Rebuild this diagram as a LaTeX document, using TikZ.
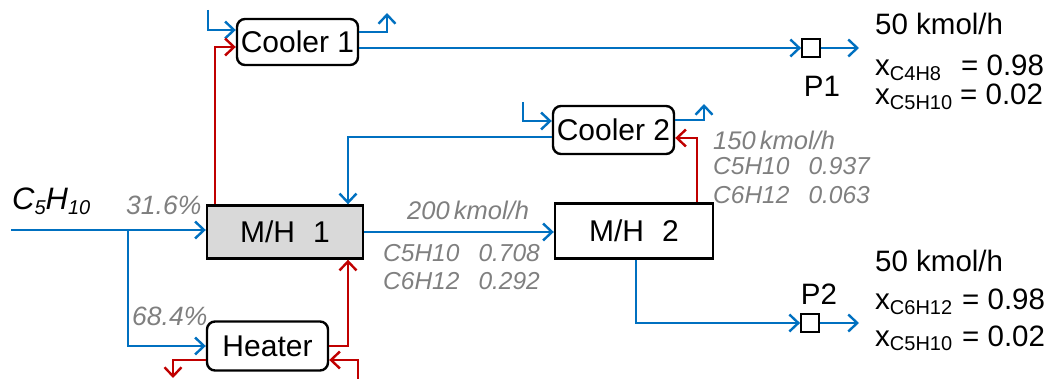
\documentclass[tikz,border=0pt]{standalone}
\usepackage{fontspec}
\setmainfont{Liberation Sans}
\usetikzlibrary{arrows.meta}
\definecolor{fblue}{HTML}{0070C0}
\definecolor{fred}{HTML}{C00000}
\definecolor{lgray}{HTML}{7F7F7F}
\definecolor{boxgray}{HTML}{D9D9D9}
\newcommand\fsz[1]{\fontsize{#1}{#1}\selectfont}
\newcommand\lsub[1]{\raisebox{-4.5pt}{\fsz{20}#1}}
\tikzset{
  tip/.style={-{Straight Barb[length=9pt,width=17pt,line width=2.4pt]}},
  cw/.style={line width=2.4pt, color=fblue, tip},
  hw/.style={line width=2.4pt, color=fred, tip},
  unit/.style={draw, line width=2.4pt, rounded corners=8pt, inner sep=0pt, font=\fsz{30}},
  mh/.style={draw, line width=2.4pt, inner sep=0pt, font=\fsz{30}},
  prod/.style={draw, line width=1.8pt, minimum size=18pt, inner sep=0pt},
  glab/.style={anchor=base west, inner sep=0pt, text=lgray, font=\fsz{24.5}\itshape},
  pct/.style={glab, font=\fsz{26.5}\itshape},
  rate/.style={glab, font=\fsz{25.5}\itshape},
  rlab/.style={anchor=base west, inner sep=0pt, font=\fsz{29.5}},
}
\begin{document}
\begin{tikzpicture}[x=1pt,y=-1pt]
\useasboundingbox (0,0) rectangle (1055,379);
% units
\node[unit, minimum width=121pt, minimum height=46pt] (C1) at (297.5,42) {Cooler 1};
\node[unit, minimum width=121pt, minimum height=48pt] (C2) at (613.5,130) {Cooler 2};
\node[mh, fill=boxgray, minimum width=156pt, minimum height=53pt] (M1) at (285,232) {M/H\hspace{0.6em}1};
\node[mh, minimum width=158pt, minimum height=55pt] (M2) at (634,231) {M/H\hspace{0.6em}2};
\node[unit, minimum width=121pt, minimum height=49pt] (H) at (267.5,346) {Heater};
\node[prod] (P1) at (811,48) {};
\node[prod] (P2) at (810,323) {};
% free ends
\coordinate (c1in) at (208,10);
\coordinate (c1out) at (387,13);
\coordinate (p1o) at (859,48);
\coordinate (c2in) at (523,102);
\coordinate (c2out) at (704,104);
\coordinate (feed) at (11,230);
\coordinate (split) at (128,230);
\coordinate (hout) at (173,378);
\coordinate (hin) at (358,381);
\coordinate (p2o) at (859,323);
% cooler 1
\draw[cw] (c1in) |- ([yshift=12pt]C1.west);
\draw[hw] ([xshift=-70pt]M1.north) |- ([yshift=-5pt]C1.west);
\draw[cw] ([yshift=10pt]C1.east) -| (c1out);
\draw[cw] ([yshift=-6pt]C1.east) -- (P1.west);
\draw[cw] (P1.east) -- (p1o);
% cooler 2
\draw[cw] (c2in) |- ([yshift=9pt]C2.west);
\draw[cw] ([yshift=10pt]C2.east) -| (c2out);
\draw[cw] ([yshift=-7pt]C2.west) -| ([xshift=63pt]M1.north);
\draw[hw] ([xshift=63pt]M2.north) |- ([yshift=-8pt]C2.east);
% main line
\draw[cw] (feed) -- (feed -| M1.west);
\draw[cw] (split) |- (H.west);
\draw[cw] (M1.east) -- (M1.east -| M2.west);
% heater
\draw[hw] (H.east) -| ([xshift=63pt]M1.south);
\draw[hw] ([yshift=-14pt]H.west) -| (hout);
\draw[hw] (hin) |- ([yshift=-14pt]H.east);
% bottom product
\draw[cw] ([xshift=2pt]M2.south) |- (P2.west);
\draw[cw] (P2.east) -- (p2o);
% labels
\node[anchor=base west, inner sep=0pt, font=\fsz{31}\itshape] (feedlab) at (12,210) {C\lsub{5}H\lsub{10}};
\node[pct] (s1) at (126,215) {31.6\%};
\node[pct] (s2) at (132,326) {68.4\%};
\node[rate] (f1) at (407,220) {200\,kmol/h};
\node[glab] (f2) at (383,262) {C5H10\hspace{0.78em}0.708};
\node[glab] (f3) at (383,290) {C6H12\hspace{0.78em}0.292};
\node[rate] (g1) at (713,150) {150\,kmol/h};
\node[glab] (g2) at (713,175) {C5H10\hspace{0.78em}0.937};
\node[glab] (g3) at (713,204) {C6H12\hspace{0.78em}0.063};
\node[anchor=base, inner sep=0pt, font=\fsz{29.5}] (p1lab) at (822,97) {P1};
\node[anchor=base, inner sep=0pt, font=\fsz{29.5}] (p2lab) at (819,305) {P2};
% product specs
\node[rlab] (r1) at (875,35) {50 kmol/h};
\node[rlab] (r2) at (875,76) {x\lsub{C4H8}};
\node[rlab] (r2v) at (961,76) {= 0.98};
\node[rlab] (r3) at (875,105) {x\lsub{C5H10}};
\node[rlab] (r3v) at (960,105) {= 0.02};
\node[rlab] (q1) at (875,272) {50 kmol/h};
\node[rlab] (q2) at (875,310) {x\lsub{C6H12}};
\node[rlab] (q2v) at (962,310) {= 0.98};
\node[rlab] (q3) at (875,346) {x\lsub{C5H10}};
\node[rlab] (q3v) at (962,346) {= 0.02};
\end{tikzpicture}
\end{document}
